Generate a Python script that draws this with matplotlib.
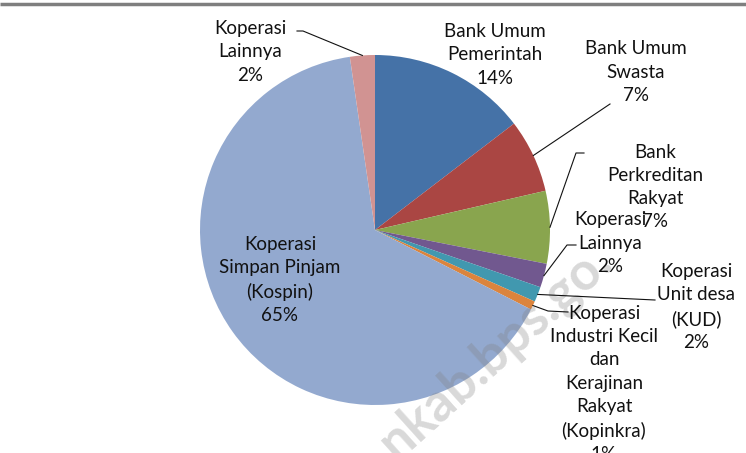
import numpy as np
import matplotlib
matplotlib.use('Agg')
import matplotlib.pyplot as plt

# share of each lender, clockwise from 12 o'clock
lenders = ['Bank Umum\nPemerintah', 'Bank Umum\nSwasta', 'Bank\nPerkreditan\nRakyat',
           'Koperasi\nLainnya', 'Koperasi\nUnit desa\n(KUD)',
           'Koperasi\nIndustri Kecil\ndan\nKerajinan\nRakyat\n(Kopinkra)',
           'Koperasi\nSimpan Pinjam\n(Kospin)', 'Koperasi\nLainnya']
shares = [14.6, 6.8, 6.7, 2.2, 1.4, 0.8, 65.2, 2.3]
pct_labels = ['14%', '7%', '7%', '2%', '2%', '1%', '65%', '2%']
colors = ['#4572A7', '#AA4643', '#89A54E', '#71588F', '#4198AF', '#DB843D',
          '#93A9CF', '#D19392']

W, H = 746, 453
fig = plt.figure(figsize=(W / 100, H / 100), dpi=100)
ax = fig.add_axes([0, 0, 1, 1])

font = ['Lato', 'DejaVu Sans']
txt = dict(fontsize=13.5, color='#111111', family=font, ha='center', va='center',
           linespacing=1.45, zorder=5)

cx, cy, r = 375, H - 230, 175
wedges, _ = ax.pie(shares, colors=colors, startangle=90, counterclock=False,
                   center=(cx, cy), radius=r, frame=True,
                   wedgeprops=dict(linewidth=0))
ax.set_xlim(0, W)
ax.set_ylim(0, H)
ax.set_aspect('equal')
ax.axis('off')

# label centre (pixels from top-left) and leader elbow/end, None = inside slice
label_pos = [(495, 55), (636, 72), (655, 187), (610, 243), (696, 307),
             (604, 384), (280, 280), (250, 52)]
leaders = [None,
           [(610, 104)],
           [(576, 153), (584, 153)],
           [(567, 245), (576, 245)],
           [(655, 300)],
           [(548, 311), (568, 312)],
           None,
           [(303, 31), (297, 31)]]

for w, name, pct, (px, py), lead in zip(wedges, lenders, pct_labels,
                                        label_pos, leaders):
    ax.text(px, H - py, name + '\n' + pct, **txt)
    if lead is None:
        continue
    mid = np.deg2rad((w.theta1 + w.theta2) / 2)
    xs = [cx + r * np.cos(mid)] + [p[0] for p in lead]
    ys = [cy + r * np.sin(mid)] + [H - p[1] for p in lead]
    ax.plot(xs, ys, color='#111111', lw=0.8, zorder=4)

# faint site watermark across the lower right
ax.text(386, H - 450, 'nkab.bps.go.', fontsize=38, fontweight='bold',
        family=font, color='#808080', alpha=0.3, rotation=42,
        rotation_mode='anchor', ha='left', va='center', zorder=3)

# grey rule along the top edge
ax.plot([0, W], [H - 4, H - 4], color='#7f7f7f', lw=2.5, zorder=6,
        solid_capstyle='butt')

fig.savefig('out.png', dpi=100)
